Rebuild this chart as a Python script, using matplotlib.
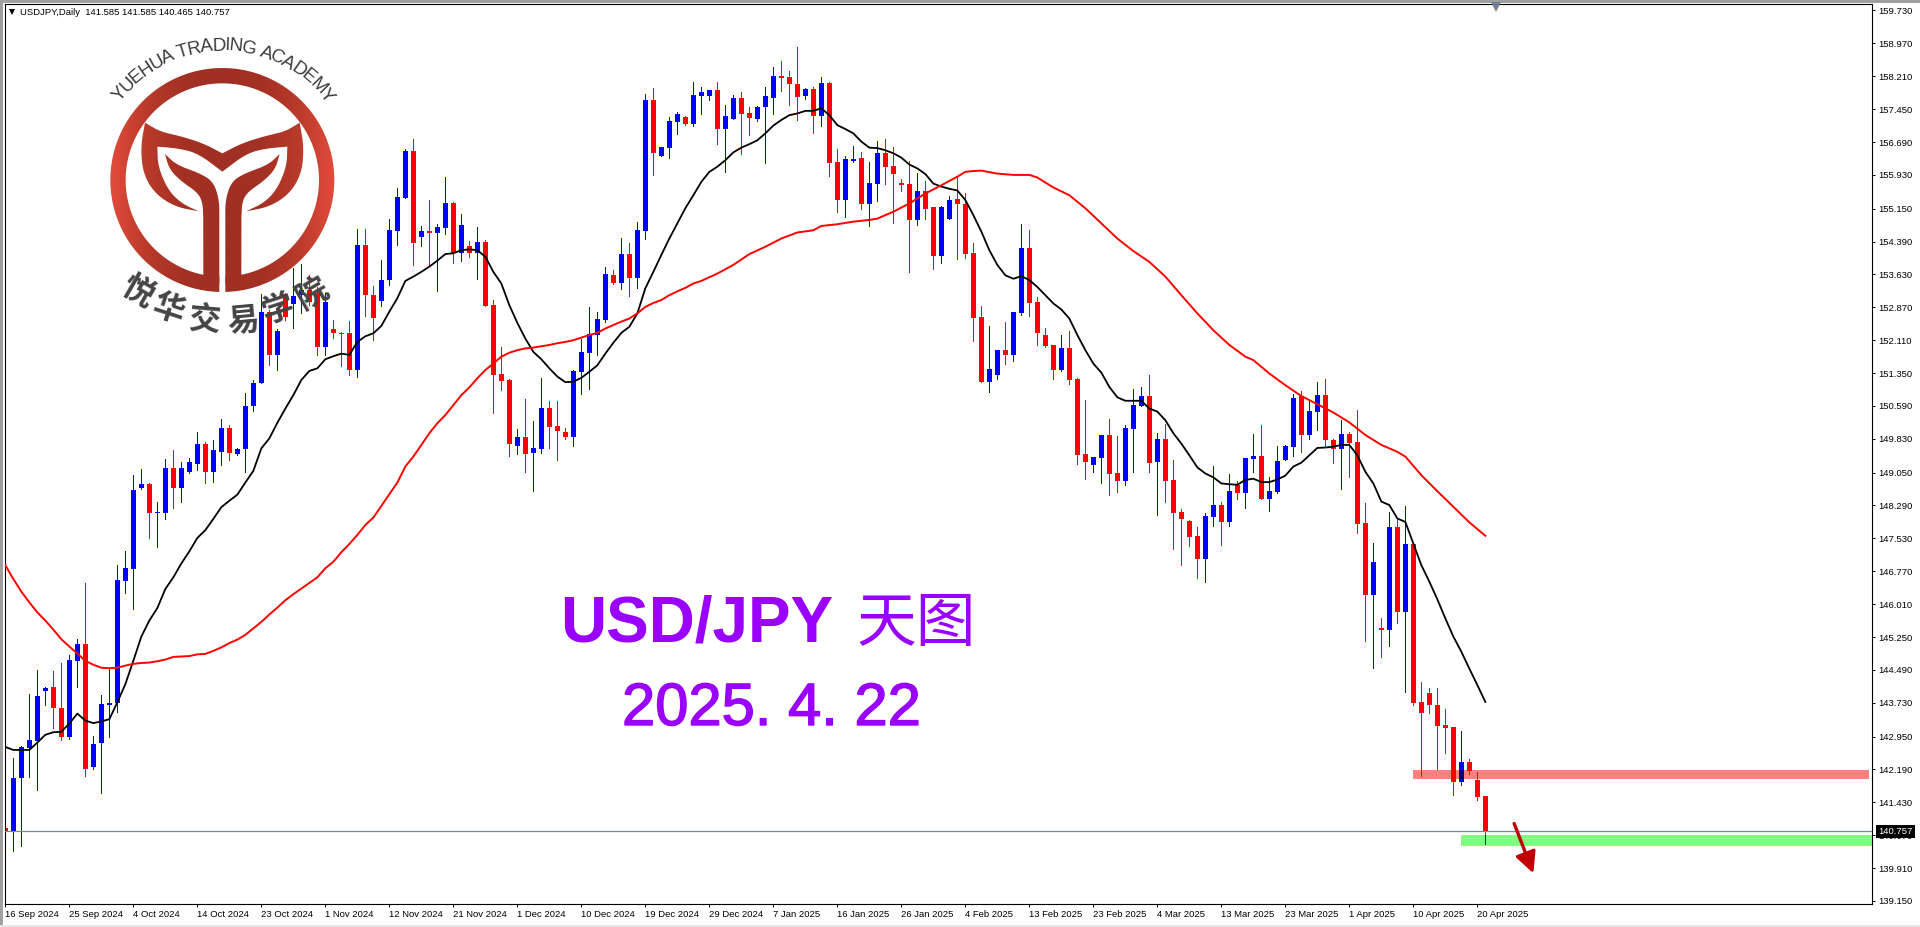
import numpy as np
import matplotlib
matplotlib.use('Agg')
import matplotlib.pyplot as plt
import matplotlib.patheffects as pe
from matplotlib.colors import LinearSegmentedColormap
from matplotlib.patches import PathPatch, Rectangle
from matplotlib.path import Path

# daily candles
opens = [140.83, 140.77, 142.00, 142.68, 142.85, 144.01, 144.09, 143.62, 142.93, 144.69,
         145.08, 142.25, 142.79, 143.69, 143.72, 146.55, 146.83, 148.69, 148.79, 148.11,
         148.12, 149.15, 148.70, 149.06, 149.25, 149.71, 149.06, 149.52, 150.09, 149.48,
         149.60, 150.59, 151.13, 152.76, 151.77, 153.18, 152.95, 153.15, 153.27, 153.19,
         151.96, 152.38, 152.28, 152.27, 151.42, 154.31, 153.15, 153.01, 153.50, 154.63,
         155.39, 156.48, 154.49, 154.63, 154.59, 154.70, 155.28, 154.13, 154.28, 154.12,
         154.38, 152.92, 151.33, 151.19, 149.67, 149.87, 149.51, 149.60, 150.54, 150.12,
         149.99, 149.88, 151.37, 151.81, 152.23, 152.57, 153.61, 153.43, 154.10, 153.54,
         154.63, 157.66, 156.37, 156.55, 157.15, 157.27, 157.10, 157.75, 157.75, 157.89,
         156.99, 157.22, 157.71, 157.36, 157.22, 157.50, 157.71, 158.21, 158.19, 158.03,
         157.75, 157.91, 157.29, 158.05, 156.23, 155.35, 156.25, 156.32, 155.26, 155.72,
         156.43, 156.13, 155.74, 155.72, 154.89, 155.56, 155.19, 154.05, 154.91, 155.37,
         155.26, 154.12, 152.64, 151.14, 151.30, 151.88, 151.77, 152.74, 154.24, 152.99,
         152.23, 152.00, 151.42, 151.93, 151.21, 149.48, 149.22, 149.38, 149.92, 149.04,
         148.85, 150.05, 150.59, 150.82, 149.29, 149.82, 148.88, 148.14, 147.93, 147.58,
         147.05, 148.02, 148.30, 147.91, 148.76, 148.58, 149.36, 149.43, 148.44, 148.60,
         149.34, 149.64, 150.82, 149.92, 150.45, 150.84, 149.80, 149.59, 149.94, 149.75,
         147.88, 146.22, 145.46, 145.41, 147.79, 145.83, 147.40, 143.75, 143.95, 143.68,
         143.22, 143.17, 141.90, 142.36, 141.94, 141.585]
closes = [140.77, 142.00, 142.70, 142.87, 143.89, 144.07, 143.62, 142.93, 144.72, 145.08,
          142.19, 142.78, 143.70, 143.72, 146.57, 146.84, 148.65, 148.79, 148.12, 148.14,
          149.15, 148.70, 149.15, 149.30, 149.71, 149.06, 149.57, 150.09, 149.51, 149.59,
          150.60, 151.13, 152.76, 151.77, 152.32, 152.65, 153.13, 153.27, 153.00, 151.96,
          152.99, 152.28, 152.26, 151.42, 154.31, 153.15, 152.63, 153.51, 154.65, 155.42,
          156.48, 154.35, 154.63, 154.59, 154.72, 155.28, 154.12, 154.77, 154.12, 154.38,
          152.91, 151.31, 151.17, 149.72, 149.87, 149.49, 149.62, 150.54, 150.11, 150.02,
          149.87, 151.40, 151.84, 152.25, 152.60, 153.64, 153.43, 154.10, 153.54, 154.65,
          157.66, 156.43, 156.57, 157.17, 157.34, 157.10, 157.78, 157.84, 157.89, 156.99,
          157.29, 157.71, 157.34, 157.24, 157.50, 157.75, 158.21, 158.17, 158.03, 157.73,
          157.91, 157.29, 158.05, 156.20, 155.35, 156.30, 156.30, 155.26, 155.74, 156.43,
          156.11, 155.95, 155.70, 154.89, 155.56, 155.14, 154.05, 155.19, 155.35, 155.26,
          154.10, 152.62, 151.14, 151.44, 151.88, 151.77, 152.76, 154.24, 152.97, 152.27,
          151.97, 151.42, 151.93, 151.19, 149.45, 149.29, 149.41, 149.92, 149.02, 148.85,
          150.08, 150.61, 150.82, 149.27, 149.82, 148.85, 148.11, 147.98, 147.56, 147.05,
          148.04, 148.30, 147.91, 148.62, 148.58, 149.39, 149.43, 148.44, 148.62, 149.32,
          149.66, 150.77, 149.92, 150.47, 150.84, 149.80, 149.59, 149.94, 149.73, 147.86,
          146.22, 146.98, 145.41, 147.79, 145.83, 147.40, 143.72, 143.49, 143.68, 143.19,
          143.15, 141.90, 142.36, 142.15, 141.55, 140.757]
highs = [141.25, 142.45, 142.74, 143.93, 144.49, 144.09, 144.46, 144.66, 144.83, 145.20,
         146.50, 142.96, 143.91, 144.51, 146.91, 147.23, 148.99, 149.13, 148.80, 148.36,
         149.36, 149.57, 149.30, 149.39, 149.98, 149.75, 149.80, 150.30, 150.14, 149.63,
         150.88, 151.19, 153.18, 152.81, 152.37, 153.21, 153.78, 153.86, 153.61, 153.35,
         153.19, 152.57, 152.30, 152.55, 154.69, 154.69, 153.36, 153.96, 154.92, 155.62,
         156.53, 156.75, 154.75, 155.35, 154.79, 155.88, 155.31, 155.02, 154.40, 154.72,
         154.42, 153.04, 151.95, 151.22, 150.06, 150.75, 150.24, 151.23, 150.70, 150.70,
         150.08, 151.42, 152.14, 152.88, 152.76, 153.80, 153.73, 154.47, 154.35, 154.84,
         157.80, 157.94, 156.57, 157.27, 157.38, 157.29, 158.08, 157.96, 157.90, 158.08,
         157.54, 157.78, 157.84, 157.50, 157.52, 157.96, 158.42, 158.56, 158.33, 158.88,
         157.94, 157.96, 158.19, 158.08, 156.53, 156.37, 156.60, 156.46, 156.23, 156.71,
         156.76, 156.57, 155.83, 156.25, 155.97, 155.79, 155.19, 155.21, 155.44, 155.88,
         155.51, 154.35, 152.90, 152.44, 151.88, 152.53, 152.76, 154.79, 154.65, 153.11,
         152.39, 152.00, 152.23, 152.32, 151.23, 150.73, 149.41, 149.92, 150.29, 149.89,
         150.15, 150.98, 151.03, 151.30, 149.96, 150.17, 149.34, 148.21, 147.95, 147.79,
         148.11, 149.20, 148.37, 149.02, 148.85, 149.39, 149.94, 150.15, 148.95, 149.66,
         149.69, 150.86, 150.93, 150.70, 151.14, 151.21, 149.82, 150.26, 149.99, 150.49,
         148.35, 147.42, 145.69, 148.14, 148.00, 148.28, 147.40, 144.21, 144.07, 144.07,
         143.58, 143.17, 143.08, 142.43, 142.13, 141.585]
lows = [139.56, 140.31, 140.43, 142.02, 141.72, 143.68, 143.15, 142.88, 142.89, 144.10,
        142.04, 142.19, 141.64, 142.94, 143.51, 146.27, 145.90, 148.68, 147.54, 147.34,
        147.98, 148.24, 148.38, 149.05, 149.11, 148.81, 148.84, 149.23, 149.34, 149.46,
        149.06, 150.48, 151.13, 151.53, 151.42, 152.57, 152.40, 152.74, 152.92, 151.77,
        151.77, 152.17, 151.51, 151.30, 151.26, 152.67, 152.11, 152.90, 153.38, 154.31,
        155.39, 153.85, 154.28, 153.85, 153.24, 154.56, 153.89, 153.94, 154.03, 153.52,
        152.91, 150.43, 150.97, 149.44, 149.49, 149.07, 148.63, 149.51, 149.62, 149.35,
        149.83, 149.67, 150.87, 150.99, 151.77, 152.53, 153.41, 153.29, 153.13, 153.31,
        154.45, 155.93, 156.37, 156.32, 156.87, 157.08, 157.06, 157.34, 157.66, 156.64,
        156.00, 157.22, 156.41, 156.85, 157.17, 156.20, 157.34, 157.87, 157.54, 157.20,
        157.68, 156.90, 157.06, 155.90, 155.07, 154.96, 156.23, 155.14, 154.75, 155.33,
        155.72, 154.82, 155.56, 153.68, 154.77, 154.91, 153.75, 153.89, 154.91, 153.98,
        154.01, 152.09, 151.14, 150.91, 151.21, 151.56, 151.63, 152.69, 152.67, 152.00,
        151.95, 151.21, 151.40, 151.10, 149.25, 148.90, 149.06, 148.81, 148.53, 148.60,
        148.76, 149.06, 150.59, 149.06, 148.07, 148.37, 147.28, 146.91, 147.35, 146.61,
        146.52, 147.81, 147.37, 147.81, 148.44, 148.23, 149.06, 148.44, 148.16, 148.58,
        149.34, 149.43, 149.52, 149.82, 150.03, 149.66, 149.27, 148.67, 148.95, 147.65,
        145.16, 144.53, 144.79, 145.04, 145.57, 143.98, 143.68, 142.04, 143.49, 142.20,
        142.57, 141.60, 141.83, 142.08, 141.48, 140.465]

# fast average, one value per bar
fast_ma = [142.71, 142.64, 142.64, 142.64, 142.81, 142.99, 143.05, 143.06, 143.25, 143.48,
           143.32, 143.26, 143.30, 143.35, 143.74, 144.16, 144.70, 145.26, 145.63, 145.92,
           146.36, 146.63, 146.95, 147.23, 147.54, 147.72, 147.98, 148.25, 148.40, 148.54,
           148.82, 149.09, 149.61, 149.84, 150.20, 150.53, 150.84, 151.19, 151.40, 151.46,
           151.67, 151.74, 151.80, 151.77, 152.07, 152.20, 152.27, 152.44, 152.77, 153.08,
           153.48, 153.58, 153.69, 153.81, 153.95, 154.10, 154.12, 154.19, 154.21, 154.19,
           154.04, 153.69, 153.42, 152.92, 152.51, 152.15, 151.84, 151.67, 151.46, 151.27,
           151.14, 151.15, 151.24, 151.38, 151.53, 151.80, 152.05, 152.28, 152.42, 152.73,
           153.31, 153.69, 154.08, 154.46, 154.81, 155.16, 155.46, 155.77, 156.00, 156.12,
           156.27, 156.45, 156.56, 156.64, 156.73, 156.89, 157.07, 157.20, 157.31, 157.35,
           157.41, 157.41, 157.47, 157.31, 157.08, 156.99, 156.89, 156.70, 156.56, 156.55,
           156.50, 156.43, 156.33, 156.17, 156.08, 155.95, 155.73, 155.66, 155.61, 155.57,
           155.35, 155.00, 154.62, 154.19, 153.85, 153.61, 153.53, 153.59, 153.50, 153.34,
           153.15, 152.96, 152.82, 152.61, 152.23, 151.88, 151.57, 151.36, 151.03, 150.79,
           150.71, 150.71, 150.71, 150.53, 150.46, 150.26, 149.96, 149.72, 149.45, 149.17,
           149.03, 148.94, 148.80, 148.78, 148.77, 148.88, 148.91, 148.83, 148.83, 148.89,
           148.98, 149.19, 149.28, 149.45, 149.62, 149.63, 149.65, 149.69, 149.69, 149.45,
           149.07, 148.80, 148.38, 148.30, 147.99, 147.91, 147.41, 146.91, 146.53, 146.12,
           145.68, 145.26, 144.91, 144.52, 144.14, 143.75]

# slow average, read every bar or two
slow_idx = list(range(87)) + [87, 89, 91, 93, 95, 97, 99, 101, 102, 104, 106, 108, 109, 111, 113, 115,
                              117, 119, 120, 121, 122, 124, 126, 128, 129, 131, 133, 135, 137, 139,
                              141, 143, 145, 147, 149, 151, 153, 155, 156, 158, 160, 162, 164, 166,
                              168, 170, 172, 174, 175, 177, 179, 181, 183, 185]
slow_ma = [146.91, 146.59, 146.30, 146.05, 145.82, 145.63, 145.42, 145.20, 145.03, 144.87,
           144.70, 144.61, 144.54, 144.53, 144.54, 144.59, 144.63, 144.65, 144.66, 144.69,
           144.73, 144.79, 144.80, 144.81, 144.85, 144.86, 144.93, 145.01, 145.11, 145.19,
           145.30, 145.45, 145.60, 145.77, 145.93, 146.10, 146.24, 146.37, 146.50, 146.63,
           146.84, 146.99, 147.21, 147.40, 147.61, 147.84, 148.01, 148.28, 148.55, 148.82,
           149.19, 149.42, 149.69, 149.96, 150.19, 150.38, 150.61, 150.84, 151.02, 151.23,
           151.42, 151.57, 151.73, 151.82, 151.88, 151.92, 151.94, 151.97, 152.00, 152.04,
           152.07, 152.11, 152.17, 152.23, 152.28, 152.38, 152.46, 152.54, 152.61, 152.73,
           152.88, 152.97, 153.04, 153.15, 153.24, 153.32, 153.42,
           153.48, 153.65, 153.85, 154.10, 154.27, 154.46, 154.60, 154.65, 154.75, 154.79,
           154.85, 154.89, 154.92, 155.08, 155.27, 155.50, 155.69, 155.89, 156.00, 156.02,
           156.03, 155.96, 155.93, 155.93, 155.87, 155.64, 155.46, 155.16, 154.81, 154.46,
           154.17, 153.92, 153.58, 153.15, 152.73, 152.34, 152.00, 151.73, 151.65, 151.34,
           151.07, 150.82, 150.63, 150.44, 150.21, 149.92, 149.69, 149.53, 149.42, 148.99,
           148.62, 148.26, 147.90, 147.59]

last_price = 140.757
resistance_zone = [141.97, 142.18]
support_zone = [140.42, 140.67]
resistance_start = 176
support_start = 182
arrow_from = [188.6, 140.94]
arrow_to = [191.0, 139.79]

date_labels = ['16 Sep 2024', '25 Sep 2024', '4 Oct 2024', '14 Oct 2024', '23 Oct 2024', '1 Nov 2024',
               '12 Nov 2024', '21 Nov 2024', '1 Dec 2024', '10 Dec 2024', '19 Dec 2024', '29 Dec 2024',
               '7 Jan 2025', '16 Jan 2025', '26 Jan 2025', '4 Feb 2025', '13 Feb 2025', '23 Feb 2025',
               '4 Mar 2025', '13 Mar 2025', '23 Mar 2025', '1 Apr 2025', '10 Apr 2025', '20 Apr 2025']
price_ticks = [159.73, 158.97, 158.21, 157.45, 156.69, 155.93, 155.15, 154.39, 153.63, 152.87,
               152.11, 151.35, 150.59, 149.83, 149.05, 148.29, 147.53, 146.77, 146.01, 145.25,
               144.49, 143.73, 142.95, 142.19, 141.43, 140.67, 139.91, 139.15]

plt.rcParams['font.family'] = ['Liberation Sans', 'Noto Sans CJK SC']

W, H = 1920, 927
fig = plt.figure(figsize=(W / 100, H / 100), dpi=100)
ax = fig.add_axes([4.5 / W, 1 - 904 / H, 1867.5 / W, 900 / H])

idx = np.arange(len(opens))
o = np.array(opens)
c = np.array(closes)
colors = np.where(c >= o, '#0000ff', '#ff0000')

ax.add_patch(Rectangle((resistance_start, resistance_zone[0]), 232.96 - resistance_start,
                       resistance_zone[1] - resistance_zone[0], color='#ff8080', lw=0, zorder=1))
ax.add_patch(Rectangle((support_start, support_zone[0]), 234 - support_start,
                       support_zone[1] - support_zone[0], color='#80ff80', lw=0, zorder=1))

ax.vlines(idx, lows, highs, colors=colors, lw=0.72, zorder=2, antialiased=False)
ax.bar(idx, np.abs(c - o), bottom=np.minimum(o, c), width=0.625, color=colors, lw=0, zorder=2,
       antialiased=False)

# the terminal blends objects with the candles, so the overlaps come out darker
ax.bar([182], [resistance_zone[1] - resistance_zone[0]], bottom=resistance_zone[0], width=0.625,
       color='#000080', lw=0, zorder=3, antialiased=False)
ax.vlines([185], lows[185], support_zone[1], colors='#800000', lw=0.72, zorder=3, antialiased=False)

ax.plot(idx, fast_ma, color='black', lw=1.3, zorder=4)
ax.plot(slow_idx, slow_ma, color='#ff0000', lw=1.4, zorder=4)
ax.axhline(last_price, color='#778899', lw=0.9, zorder=3)

ax.annotate('', xy=arrow_to, xytext=arrow_from, zorder=5,
            arrowprops=dict(arrowstyle='-|>,head_length=0.9,head_width=0.45', color='#c00000', lw=2.4,
                            shrinkA=0, shrinkB=0, mutation_scale=14))

ax.set_xlim(-0.104, 233.33)
ax.set_ylim(139.08, 159.88)
ax.yaxis.tick_right()
ax.set_yticks(price_ticks)
ax.set_yticklabels(['%.3f' % p for p in price_ticks])
ax.set_xticks(np.arange(len(date_labels)) * 8)
ax.set_xticklabels(date_labels, ha='left')
ax.tick_params(axis='both', length=2.4, width=0.72, labelsize=6.8, pad=2.2, color='black')
for spine in ax.spines.values():
    spine.set_linewidth(0.8)

ax.text(1 + 6 / 1867.5, last_price, '%.3f' % last_price, transform=ax.get_yaxis_transform(), color='white',
        fontsize=6.8, va='center', ha='left', zorder=10, clip_on=False,
        bbox=dict(facecolor='black', edgecolor='none', pad=1.7))

# everything below sits on a layer measured in image pixels
ov = fig.add_axes([0, 0, 1, 1], zorder=5)
ov.patch.set_visible(False)
ov.axis('off')

ov.add_patch(Rectangle((0, 0), W, 2.5, color='#a0a0a0', lw=0))
ov.add_patch(Rectangle((0, 0), 2.5, 925, color='#a0a0a0', lw=0))
ov.add_patch(Rectangle((0, 925), W, 2, color='#e6e6e6', lw=0))

ov.text(20, 12.5, 'USDJPY,Daily  141.585 141.585 140.465 140.757', fontsize=6.8, va='center', color='black')
ov.plot([11.5], [11.5], marker='v', ms=5, color='black', mew=0)
ov.plot([1496], [6.5], marker='v', ms=7, color='#708090', mew=0)

ov.text(560, 641.5, 'USD/JPY', fontsize=46, weight='bold', color='#9900ff', va='baseline')
ov.text(856, 641.5, '天图', fontsize=43, color='#9900ff', va='baseline', family='Noto Sans CJK SC')
ov.text(622, 725, '2025. 4. 22', fontsize=43, color='#9900ff', va='baseline',
        path_effects=[pe.withStroke(linewidth=1.0, foreground='#9900ff')])


def chaikin(pts, rounds=3):
    p = np.array(pts, dtype=float)
    for _ in range(rounds):
        q = np.roll(p, -1, axis=0)
        p = np.column_stack([0.75 * p + 0.25 * q, 0.25 * p + 0.75 * q]).reshape(-1, 2)
    return p


def logo_fill(poly):
    patch = PathPatch(Path(np.vstack([poly, poly[:1]])), transform=ov.transData)
    im = ov.imshow(np.linspace(0, 1, 256).reshape(1, -1), cmap=logo_cmap, vmin=0, vmax=1, aspect='auto',
                   extent=[110, 335, 300, 60], zorder=6)
    im.set_clip_path(patch)


logo_cmap = LinearSegmentedColormap.from_list(
    'logo', ['#e24b3b', '#b83a2a', '#a33024', '#a03023', '#a33024', '#b83a2a', '#e24b3b'])

# ring, open at the bottom where the two stems meet
cx, cy = 667 / 3, 540 / 3
r_out, r_in = 336 / 3, 290 / 3
t = np.linspace(0.0268, 2 * np.pi - 0.0268, 300)
t2 = np.linspace(2 * np.pi - 0.031, 0.031, 300)
ring = np.vstack([np.column_stack([cx + r_out * np.sin(t), cy + r_out * np.cos(t)]),
                  np.column_stack([cx + r_in * np.sin(t2), cy + r_in * np.cos(t2)])])
logo_fill(ring)

tail = [(435, 368), (435, 368), (480, 395), (540, 408), (610, 430), (667, 460), (667, 460), (725, 430), (795, 408),
        (855, 395), (899, 368), (899, 368), (912, 440), (905, 520), (870, 580), (810, 620), (738, 634), (738, 634),
        (790, 610), (830, 570), (860, 500), (862, 440), (862, 440), (800, 445), (740, 460), (667, 515), (667, 515),
        (594, 460), (534, 445), (472, 440), (472, 440), (474, 500), (504, 570), (544, 610), (596, 634), (596, 634),
        (524, 620), (464, 580), (429, 520), (422, 440)]
logo_fill(chaikin(tail) / 3)

leaf = [(495, 462), (495, 462), (530, 495), (600, 520), (640, 545), (658, 600), (658, 660), (658, 660), (658, 850),
        (658, 850), (610, 850), (610, 850), (610, 660), (610, 660), (608, 605), (590, 575), (545, 545), (508, 508)]
logo_fill(chaikin(leaf) / 3)
logo_fill(chaikin([(1334 - x, y) for x, y in leaf]) / 3)

# curved lettering, widths follow the font so the spacing looks even
name = 'YUEHUA TRADING ACADEMY'
widths = dict(Y=.667, U=.722, E=.667, H=.722, A=.667, T=.611, R=.722, D=.722, I=.278, N=.722, G=.778, C=.722, M=.833)
widths[' '] = .278
w = np.array([widths[ch] for ch in name])
mid = np.cumsum(w) - w / 2
ang = np.radians(-52.5 + 106 * mid / w.sum())
for ch, a in zip(name, ang):
    ov.text(cx + 134 * np.sin(a), cy - 134 * np.cos(a), ch, fontsize=13.5, color='#3c3c3c', rotation=-np.degrees(a),
            rotation_mode='anchor', ha='center', va='center', zorder=7)

cn_chars = ['悦', '华', '交', '易', '学', '院']
cn_pos = [(137, 293, -30), (168, 310, -18), (205, 321, -5), (243, 321, 5), (278, 310, 18), (313, 293, 30)]
for ch, (x, y, rot) in zip(cn_chars, cn_pos):
    ov.text(x, y, ch, fontsize=23, weight='bold', color='#444444', rotation=rot, rotation_mode='anchor',
            ha='center', va='center', family='Noto Sans CJK SC', zorder=7)

ov.set_xlim(0, W)
ov.set_ylim(H, 0)

fig.savefig('out.png', dpi=100, facecolor='white')
